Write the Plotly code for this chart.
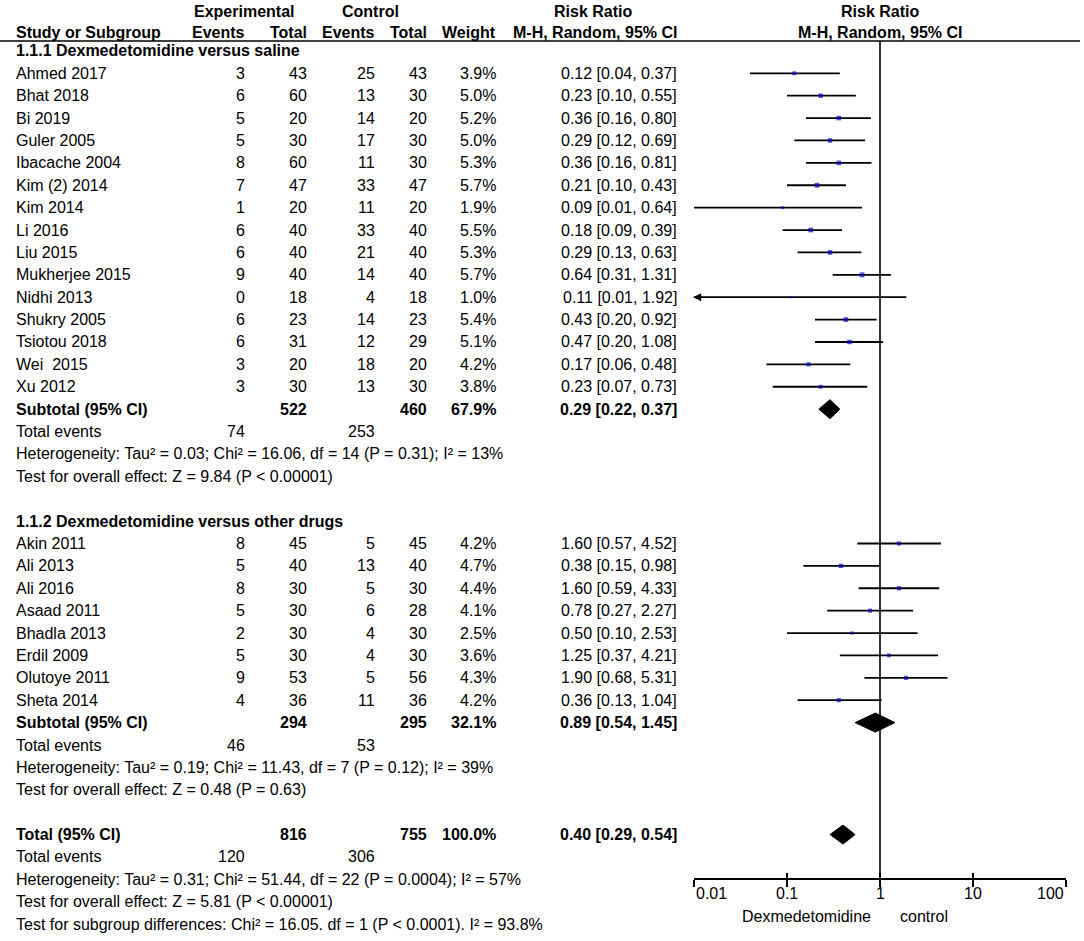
######################################################################################
####                                                                              ####
####                  Forest Plot - Dexmedetomidine vs control                    ####
####                                                                              ####
######################################################################################

# Loading required libraries----------------------------------------------------------
import numpy as np
from plotly import graph_objects as go


######################################################################################
####                                  Data                                        ####

# 1.1.1 Dexmedetomidine versus saline--------------------------------------------------
saline_studies = ['Ahmed 2017', 'Bhat 2018', 'Bi 2019', 'Guler 2005', 'Ibacache 2004',
                  'Kim (2) 2014', 'Kim 2014', 'Li 2016', 'Liu 2015', 'Mukherjee 2015',
                  'Nidhi 2013', 'Shukry 2005', 'Tsiotou 2018', 'Wei \u00a02015', 'Xu 2012']
saline_exp_events = [3, 6, 5, 5, 8, 7, 1, 6, 6, 9, 0, 6, 6, 3, 3]
saline_exp_total = [43, 60, 20, 30, 60, 47, 20, 40, 40, 40, 18, 23, 31, 20, 30]
saline_ctl_events = [25, 13, 14, 17, 11, 33, 11, 33, 21, 14, 4, 14, 12, 18, 13]
saline_ctl_total = [43, 30, 20, 30, 30, 47, 20, 40, 40, 40, 18, 23, 29, 20, 30]
saline_weight = [3.9, 5.0, 5.2, 5.0, 5.3, 5.7, 1.9, 5.5, 5.3, 5.7, 1.0, 5.4, 5.1, 4.2, 3.8]
saline_rr = [0.12, 0.23, 0.36, 0.29, 0.36, 0.21, 0.09, 0.18, 0.29, 0.64, 0.11, 0.43, 0.47, 0.17, 0.23]
saline_lo = [0.04, 0.10, 0.16, 0.12, 0.16, 0.10, 0.01, 0.09, 0.13, 0.31, 0.01, 0.20, 0.20, 0.06, 0.07]
saline_hi = [0.37, 0.55, 0.80, 0.69, 0.81, 0.43, 0.64, 0.39, 0.63, 1.31, 1.92, 0.92, 1.08, 0.48, 0.73]

# 1.1.2 Dexmedetomidine versus other drugs---------------------------------------------
other_studies = ['Akin 2011', 'Ali 2013', 'Ali 2016', 'Asaad 2011', 'Bhadla 2013',
                 'Erdil 2009', 'Olutoye 2011', 'Sheta 2014']
other_exp_events = [8, 5, 8, 5, 2, 5, 9, 4]
other_exp_total = [45, 40, 30, 30, 30, 30, 53, 36]
other_ctl_events = [5, 13, 5, 6, 4, 4, 5, 11]
other_ctl_total = [45, 40, 30, 28, 30, 30, 56, 36]
other_weight = [4.2, 4.7, 4.4, 4.1, 2.5, 3.6, 4.3, 4.2]
other_rr = [1.60, 0.38, 1.60, 0.78, 0.50, 1.25, 1.90, 0.36]
other_lo = [0.57, 0.15, 0.59, 0.27, 0.10, 0.37, 0.68, 0.13]
other_hi = [4.52, 0.98, 4.33, 2.27, 2.53, 4.21, 5.31, 1.04]

# Subgroup summaries--------------------------------------------------------------------
group_titles = ['1.1.1 Dexmedetomidine versus saline', '1.1.2 Dexmedetomidine versus other drugs']
sub_exp_total = [522, 294]
sub_ctl_total = [460, 295]
sub_weight = [67.9, 32.1]
sub_rr = [0.29, 0.89]
sub_lo = [0.22, 0.54]
sub_hi = [0.37, 1.45]
sub_exp_events = [74, 46]
sub_ctl_events = [253, 53]
sub_heterogeneity = ['Heterogeneity: Tau² = 0.03; Chi² = 16.06, df = 14 (P = 0.31); I² = 13%',
                     'Heterogeneity: Tau² = 0.19; Chi² = 11.43, df = 7 (P = 0.12); I² = 39%']
sub_overall = ['Test for overall effect: Z = 9.84 (P < 0.00001)',
               'Test for overall effect: Z = 0.48 (P = 0.63)']

# Overall summary-------------------------------------------------------------------------
total_exp_total = 816
total_ctl_total = 755
total_weight = 100.0
total_rr = 0.40
total_lo = 0.29
total_hi = 0.54
total_exp_events = 120
total_ctl_events = 306
total_notes = ['Heterogeneity: Tau² = 0.31; Chi² = 51.44, df = 22 (P = 0.0004); I² = 57%',
               'Test for overall effect: Z = 5.81 (P < 0.00001)',
               'Test for subgroup differences: Chi² = 16.05. df = 1 (P < 0.0001). I² = 93.8%']

# Axis ticks-------------------------------------------------------------------------------
tick_values = [0.01, 0.1, 1, 10, 100]
tick_labels = ['0.01', '0.1', '1', '10', '100']
favours_labels = ['Dexmedetomidine', 'control']


######################################################################################
####                               Layout helpers                                 ####

W, H = 1084, 941
FONT = 'Liberation Sans, Arial, sans-serif'
FS = 16
ROW0 = 73.3      # first study row (pixel)
STEP = 22.39     # row height (pixel)

# column right edges (pixel)
col_name = 14
col_exp_ev, col_exp_tot, col_ctl_ev, col_ctl_tot, col_weight, col_rr = 247, 309, 377, 429, 498, 679

row_y = lambda i: ROW0 + (i - 3) * STEP
fmt_rr = lambda r, l, h: f'{r:.2f} [{l:.2f}, {h:.2f}]'

annotations = []


def txt(x, y, s, anchor='right', bold=False, size=FS):
    annotations.append(dict(x=x / W, y=y, xref='paper', yref='y', text=f'<b>{s}</b>' if bold else s,
                            showarrow=False, xanchor=anchor, yanchor='middle',
                            font=dict(family=FONT, size=size, color='black')))


######################################################################################
####                               Table text                                     ####

# Headers-------------------------------------------------------------------------------
txt(243.5, 11, 'Experimental', 'center', True)
txt(370, 11, 'Control', 'center', True)
txt(593, 11, 'Risk Ratio', 'center', True)
txt(880, 11, 'Risk Ratio', 'center', True)
txt(col_name, 32, 'Study or Subgroup', 'left', True)
for x, s in zip([col_exp_ev, col_exp_tot, col_ctl_ev, col_ctl_tot, col_weight, col_rr],
                ['Events', 'Total', 'Events', 'Total', 'Weight', 'M-H, Random, 95% CI']):
    txt(x, 32, s, 'right', True)
txt(880, 32, 'M-H, Random, 95% CI', 'center', True)

groups = [
    (saline_studies, saline_exp_events, saline_exp_total, saline_ctl_events, saline_ctl_total,
     saline_weight, saline_rr, saline_lo, saline_hi),
    (other_studies, other_exp_events, other_exp_total, other_ctl_events, other_ctl_total,
     other_weight, other_rr, other_lo, other_hi),
]

study_y, study_rr, study_lo, study_hi, study_w = [], [], [], [], []
diamond_y, diamond_rr, diamond_lo, diamond_hi = [], [], [], []

row = 2
for g, (names, ee, et, ce, ct, wt, rr, lo, hi) in enumerate(groups):
    txt(col_name, row_y(row), group_titles[g], 'left', True)
    row += 1
    for k in range(len(names)):
        y = row_y(row)
        txt(col_name, y, names[k], 'left')
        txt(col_exp_ev, y, str(ee[k]))
        txt(col_exp_tot, y, str(et[k]))
        txt(col_ctl_ev, y, str(ce[k]))
        txt(col_ctl_tot, y, str(ct[k]))
        txt(col_weight, y, f'{wt[k]:.1f}%')
        txt(col_rr, y, fmt_rr(rr[k], lo[k], hi[k]))
        study_y.append(y); study_rr.append(rr[k]); study_lo.append(lo[k])
        study_hi.append(hi[k]); study_w.append(wt[k])
        row += 1
    y = row_y(row)
    txt(col_name, y, 'Subtotal (95% CI)', 'left', True)
    txt(col_exp_tot, y, str(sub_exp_total[g]), bold=True)
    txt(col_ctl_tot, y, str(sub_ctl_total[g]), bold=True)
    txt(col_weight, y, f'{sub_weight[g]:.1f}%', bold=True)
    txt(col_rr, y, fmt_rr(sub_rr[g], sub_lo[g], sub_hi[g]), bold=True)
    diamond_y.append(y); diamond_rr.append(sub_rr[g]); diamond_lo.append(sub_lo[g]); diamond_hi.append(sub_hi[g])
    row += 1
    y = row_y(row)
    txt(col_name, y, 'Total events', 'left')
    txt(col_exp_ev, y, str(sub_exp_events[g]))
    txt(col_ctl_ev, y, str(sub_ctl_events[g]))
    txt(col_name, row_y(row + 1), sub_heterogeneity[g], 'left')
    txt(col_name, row_y(row + 2), sub_overall[g], 'left')
    row += 4

# Overall total--------------------------------------------------------------------------
y = row_y(row)
txt(col_name, y, 'Total (95% CI)', 'left', True)
txt(col_exp_tot, y, str(total_exp_total), bold=True)
txt(col_ctl_tot, y, str(total_ctl_total), bold=True)
txt(col_weight, y, f'{total_weight:.1f}%', bold=True)
txt(col_rr, y, fmt_rr(total_rr, total_lo, total_hi), bold=True)
diamond_y.append(y); diamond_rr.append(total_rr); diamond_lo.append(total_lo); diamond_hi.append(total_hi)
row += 1
txt(col_name, row_y(row), 'Total events', 'left')
txt(col_exp_ev, row_y(row), str(total_exp_events))
txt(col_ctl_ev, row_y(row), str(total_ctl_events))
for j, note in enumerate(total_notes):
    txt(col_name, row_y(row + 1 + j), note, 'left')

AXIS_Y = 879


######################################################################################
####                               Forest plot                                    ####

fig = go.Figure()

# Line of no effect
fig.add_trace(go.Scatter(x=[1, 1], y=[41, AXIS_Y], mode='lines',
                         line=dict(color='black', width=1.6), hoverinfo='skip', showlegend=False))

# Confidence interval whiskers (clipped to axis range)
x_min, x_max = tick_values[0], tick_values[-1]
ci_x, ci_y = [], []
for y, l, h in zip(study_y, study_lo, study_hi):
    ci_x += [max(l, x_min), min(h, x_max), None]
    ci_y += [y, y, None]
fig.add_trace(go.Scatter(x=ci_x, y=ci_y, mode='lines', line=dict(color='black', width=1.8),
                         hoverinfo='skip', showlegend=False))

# Study point estimates, sized by weight
fig.add_trace(go.Scatter(x=study_rr, y=study_y, mode='markers',
                         marker=dict(symbol='square', color='#0000c8', size=2.0 * np.sqrt(study_w),
                                     line=dict(width=0)),
                         hoverinfo='skip', showlegend=False))

# Pooled diamonds
for y, r, l, h in zip(diamond_y, diamond_rr, diamond_lo, diamond_hi):
    fig.add_trace(go.Scatter(x=[l, r, h, r, l], y=[y, y - 9.5, y, y + 9.5, y], mode='lines',
                             fill='toself', fillcolor='black', line=dict(color='black', width=1),
                             hoverinfo='skip', showlegend=False))

# Arrow for CIs running past the lower axis limit (lower bound rounded down below 0.01)
for name, y, l in zip(saline_studies + other_studies, study_y, study_lo):
    if name.startswith('Nidhi'):
        annotations.append(dict(x=np.log10(x_min) - 0.01, y=y, xref='x', yref='y',
                                ax=np.log10(x_min) + 0.1, ay=y, axref='x', ayref='y',
                                showarrow=True, arrowhead=2, arrowsize=0.9, arrowwidth=1.8,
                                arrowcolor='black', text=''))

# Axis tick labels (ends clamped inside like RevMan)
for k, (v, s) in enumerate(zip(tick_values, tick_labels)):
    anchor = 'left' if k == 0 else ('right' if k == len(tick_values) - 1 else 'center')
    annotations.append(dict(x=np.log10(v), y=AXIS_Y + 14, xref='x', yref='y', text=s, showarrow=False,
                            xanchor=anchor, yanchor='middle', font=dict(family=FONT, size=FS, color='black')))

# Favours labels
txt(873, AXIS_Y + 37, favours_labels[0], 'right')
txt(898, AXIS_Y + 37, favours_labels[1], 'left')

# Invisible trace to hold the inside-tick overlay axis
fig.add_trace(go.Scatter(x=[1], y=[AXIS_Y], xaxis='x2', mode='markers', marker=dict(opacity=0),
                         hoverinfo='skip', showlegend=False))

axis_pos = (H - AXIS_Y) / H
x_dom = [694 / W, 1066 / W]

fig.update_layout(
    width=W, height=H,
    margin=dict(l=0, r=0, t=0, b=0),
    paper_bgcolor='white', plot_bgcolor='rgba(0,0,0,0)',
    font=dict(family=FONT, size=FS, color='black'),
    xaxis=dict(type='log', range=[-2, 2], domain=x_dom, anchor='free', position=axis_pos,
               showgrid=False, zeroline=False, showline=True, linecolor='black', linewidth=1.6,
               tickvals=tick_values, showticklabels=False, ticks='outside', ticklen=7,
               tickwidth=1.6, tickcolor='black'),
    xaxis2=dict(type='log', range=[-2, 2], domain=x_dom, anchor='free', position=axis_pos,
                overlaying='x', showgrid=False, zeroline=False, showline=False,
                tickvals=tick_values, showticklabels=False, ticks='inside', ticklen=6,
                tickwidth=1.6, tickcolor='black'),
    yaxis=dict(range=[H, 0], domain=[0, 1], visible=False),
    shapes=[dict(type='line', xref='paper', yref='y', x0=0, x1=1080 / W, y0=41, y1=41,
                 line=dict(color='black', width=1.6))],
    annotations=annotations,
)

# Saving the chart (page margin removed so the figure fills the window)-----------------
fig.write_html('out.html', config={'displayModeBar': False},
               post_script="document.body.style.margin='0';")
